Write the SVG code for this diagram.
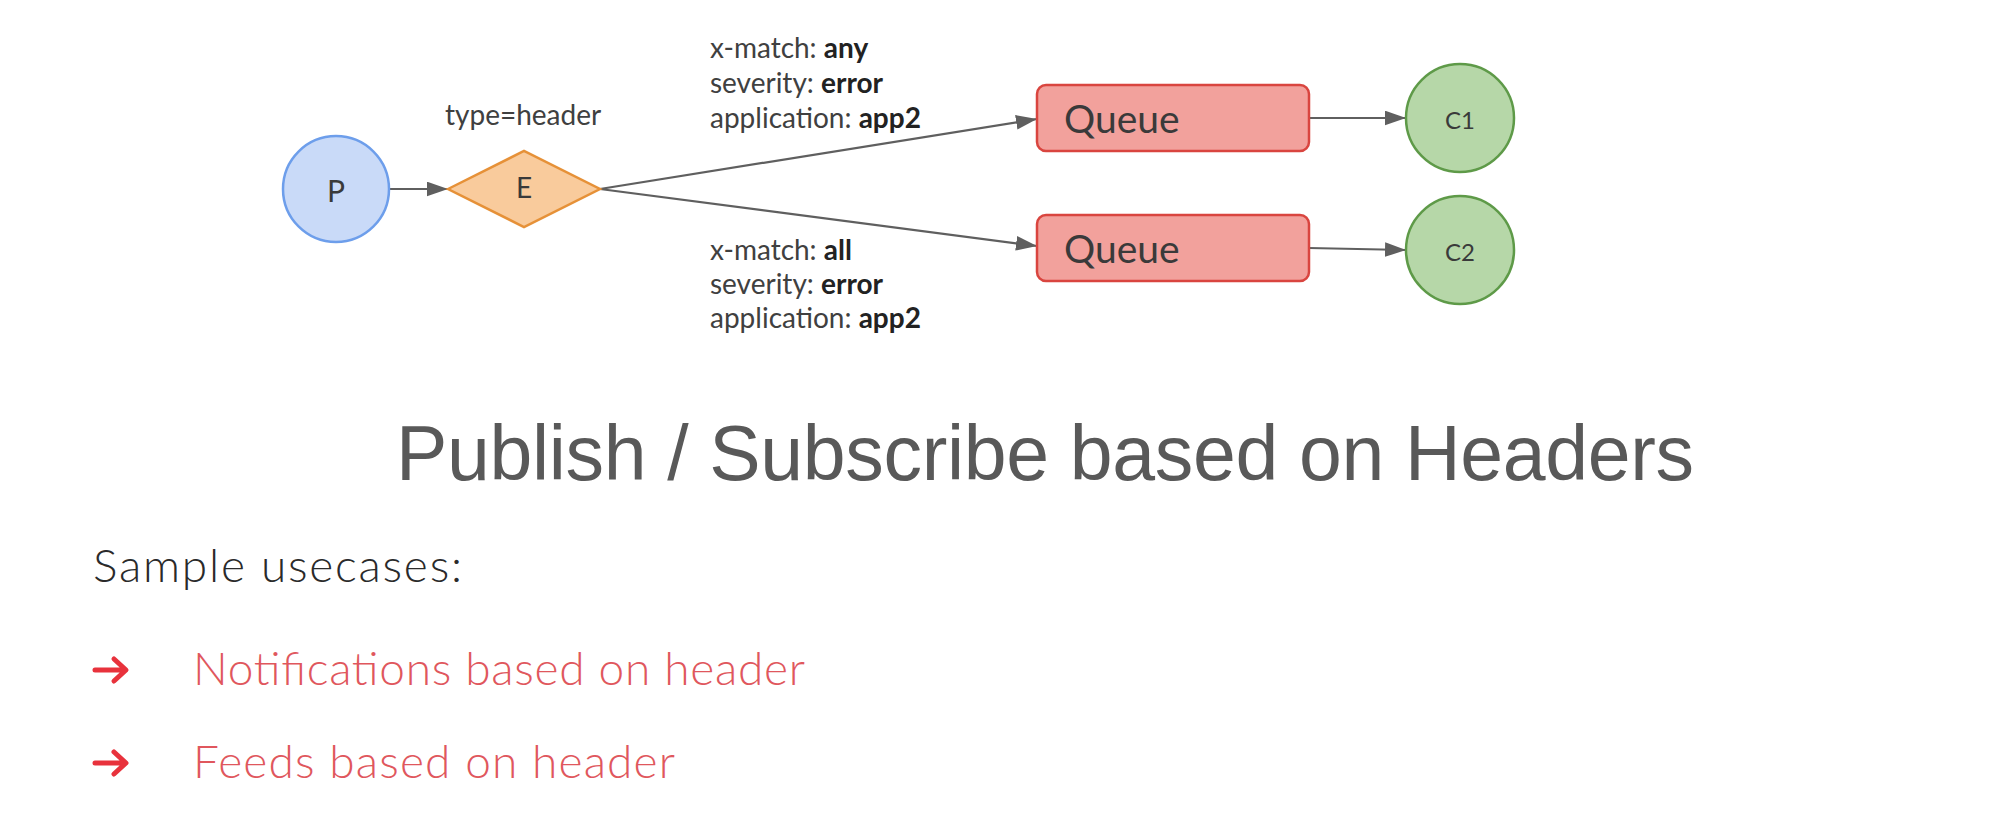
<svg xmlns="http://www.w3.org/2000/svg" width="2000" height="840" viewBox="0 0 2000 840">
  <style>
    .lbl { font-family: Lato, "Liberation Sans", sans-serif; font-size: 28px; fill: #404040; }
    .lbl .b { font-weight: bold; fill: #222; }
    .node-t { font-family: Lato, "Liberation Sans", sans-serif; fill: #3a3a3a; text-anchor: middle; dominant-baseline: central; }
    .conn { stroke: #5f5f5f; stroke-width: 2.2; fill: none; marker-end: url(#ah); }
    .queue { fill: #f2a19c; stroke: #d9453f; stroke-width: 2.5; }
    .cons { fill: #b6d7a8; stroke: #5e9a48; stroke-width: 2.5; }
    .title { font-family: "Liberation Sans", Arial, sans-serif; font-size: 77px; fill: #595959; }
    .sub { font-family: Lato, "Liberation Sans", sans-serif; font-weight: 300; font-size: 46px; fill: #2a2a2a; }
    .item { font-family: Lato, "Liberation Sans", sans-serif; font-weight: 300; font-size: 46px; fill: #e0575d; }
    .bullet { fill: none; stroke: #e8323c; stroke-width: 5; stroke-linecap: round; stroke-linejoin: round; }
  </style>
  <defs>
    <marker id="ah" viewBox="0 0 20 14" refX="20" refY="7" markerWidth="21" markerHeight="15" markerUnits="userSpaceOnUse" orient="auto">
      <path d="M0,0 L20,7 L0,14 Z" fill="#5f5f5f"/>
    </marker>
  </defs>

  <rect width="2000" height="840" fill="#ffffff"/>

  <g id="connectors">
    <line class="conn" x1="389" y1="189" x2="448" y2="189"/>
    <line class="conn" x1="600" y1="189" x2="1037" y2="119"/>
    <line class="conn" x1="600" y1="189" x2="1037" y2="246"/>
    <line class="conn" x1="1309" y1="118" x2="1406" y2="118"/>
    <line class="conn" x1="1309" y1="248" x2="1406" y2="250"/>
  </g>

  <g id="node-P">
    <circle cx="336" cy="189" r="53" fill="#c9daf8" stroke="#6d9eeb" stroke-width="2.5"/>
    <text class="node-t" x="336" y="190" font-size="30">P</text>
  </g>

  <g id="node-E">
    <polygon points="448,189 524,151 600,189 524,227" fill="#f9cb9c" stroke="#e69138" stroke-width="2.5"/>
    <text class="node-t" x="524" y="187" font-size="28">E</text>
    <text class="lbl" x="445" y="125">type=header</text>
  </g>

  <g id="label-any">
    <text class="lbl" x="710" y="58">x-match: <tspan class="b">any</tspan></text>
    <text class="lbl" x="710" y="93">severity: <tspan class="b">error</tspan></text>
    <text class="lbl" x="710" y="128">application: <tspan class="b">app2</tspan></text>
  </g>

  <g id="label-all">
    <text class="lbl" x="710" y="260">x-match: <tspan class="b">all</tspan></text>
    <text class="lbl" x="710" y="294">severity: <tspan class="b">error</tspan></text>
    <text class="lbl" x="710" y="328">application: <tspan class="b">app2</tspan></text>
  </g>

  <g id="node-Queue1">
    <rect class="queue" x="1037" y="85" width="272" height="66" rx="9"/>
    <text class="node-t" x="1064" y="118" font-size="39" style="text-anchor:start">Queue</text>
  </g>

  <g id="node-Queue2">
    <rect class="queue" x="1037" y="215" width="272" height="66" rx="9"/>
    <text class="node-t" x="1064" y="248" font-size="39" style="text-anchor:start">Queue</text>
  </g>

  <g id="node-C1">
    <circle class="cons" cx="1460" cy="118" r="54"/>
    <text class="node-t" x="1460" y="119" font-size="24">C1</text>
  </g>

  <g id="node-C2">
    <circle class="cons" cx="1460" cy="250" r="54"/>
    <text class="node-t" x="1460" y="251" font-size="24">C2</text>
  </g>

  <g id="title">
    <text class="title" x="396" y="480" textLength="1298">Publish / Subscribe based on Headers</text>
  </g>

  <g id="usecases">
    <text class="sub" x="93" y="582" textLength="369">Sample usecases:</text>
    <path class="bullet" d="M95,670 H125 M114,659 L126,670 L114,681"/>
    <text class="item" x="193" y="685" textLength="612">Notifications based on header</text>
    <path class="bullet" d="M95,763 H125 M114,752 L126,763 L114,774"/>
    <text class="item" x="193" y="778" textLength="482">Feeds based on header</text>
  </g>
</svg>
